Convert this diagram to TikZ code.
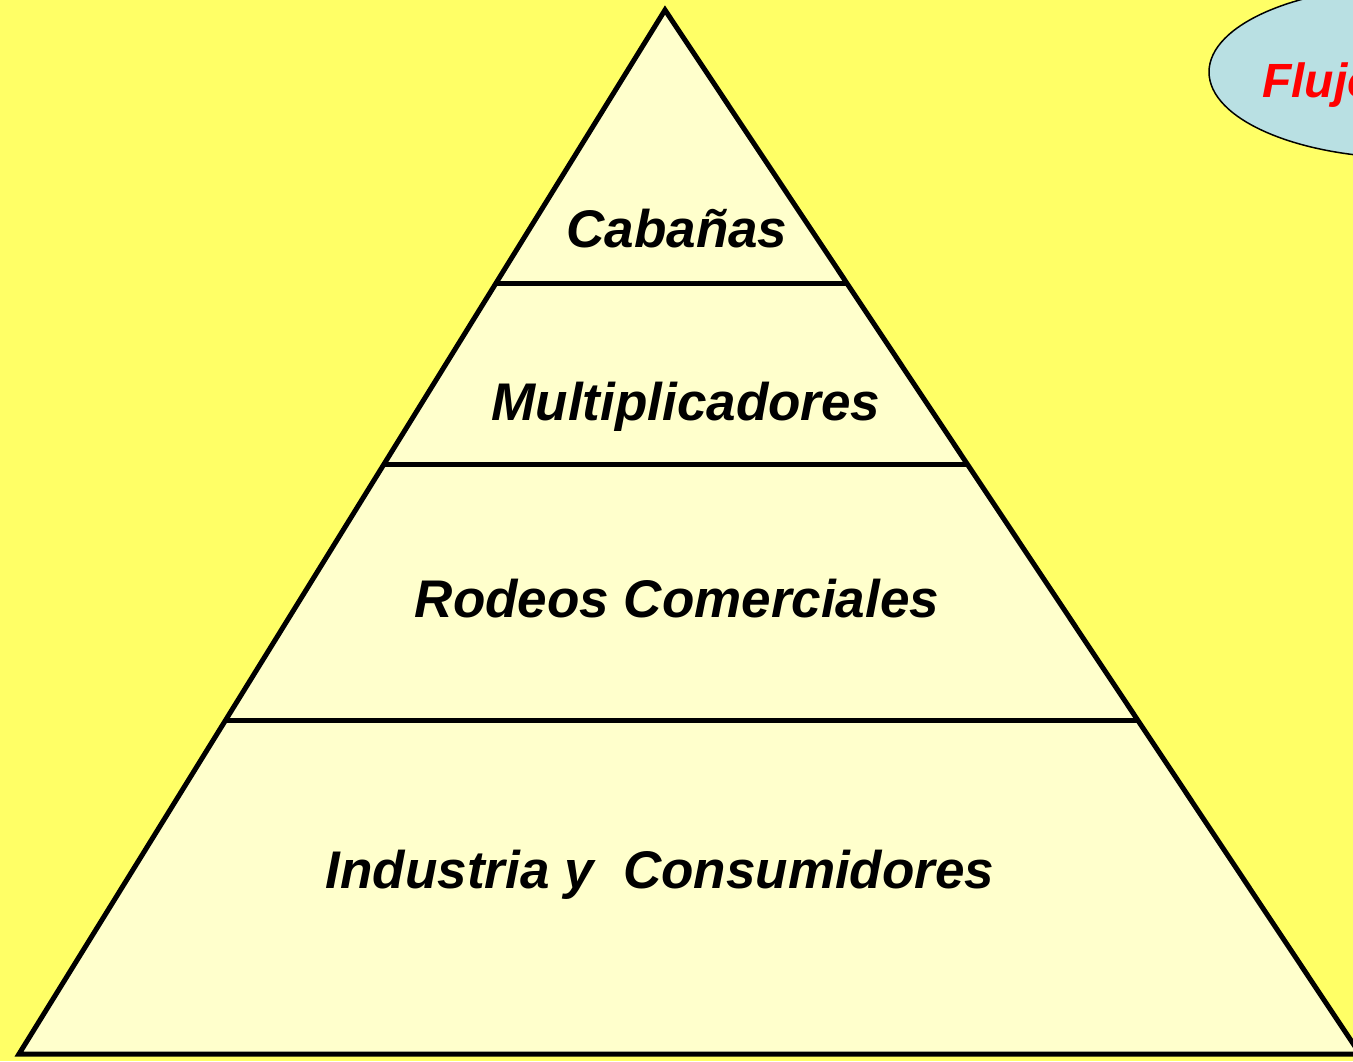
\documentclass[tikz,border=0pt]{standalone}
\usepackage{fontspec}
\setmainfont{Liberation Sans}
\definecolor{bgyellow}{HTML}{FFFF66}
\definecolor{pyrfill}{HTML}{FFFFCC}
\definecolor{ellfill}{HTML}{B9E0E3}
\definecolor{flujored}{HTML}{FF0000}
\begin{document}
\begin{tikzpicture}[x=1pt,y=-1pt,
  level/.style={font=\fontsize{53}{60}\selectfont\bfseries\itshape, anchor=base, inner sep=0pt},
  edge/.style={line width=5pt, black}]
\useasboundingbox (0,0) rectangle (1353,1061);
\clip (0,0) rectangle (1353,1061);
\fill[bgyellow] (0,0) rectangle (1353,1061);
% ellipse
\draw[fill=ellfill, line width=1.5pt] (1409,72) ellipse [x radius=200, y radius=86];
\node[font=\fontsize{48}{54}\selectfont\bfseries\itshape, text=flujored, anchor=base west, inner sep=0pt] (flujo) at (1262,97) {Flujo};
% pyramid
\coordinate (A) at (665,10);
\coordinate (L) at (19,1054);
\coordinate (R) at (1360,1054);
\fill[pyrfill] (A) -- (L) -- (R) -- cycle;
\begin{scope}
\clip (A) -- (L) -- (R) -- cycle;
\draw[edge] (0,283) -- (1353,283);
\draw[edge] (0,464) -- (1353,464);
\draw[edge] (0,720) -- (1353,720);
\end{scope}
\draw[edge, line join=miter] (A) -- (L) -- (R) -- cycle;
% labels
\node[level] (cab) at (677,247) {Cabañas};
\node[level] (mul) at (686,420) {Multiplicadores};
\node[level] (rod) at (677,617) {Rodeos Comerciales};
\node[level] (ind) at (660,888) {Industria y\ \ Consumidores};
\end{tikzpicture}
\end{document}
